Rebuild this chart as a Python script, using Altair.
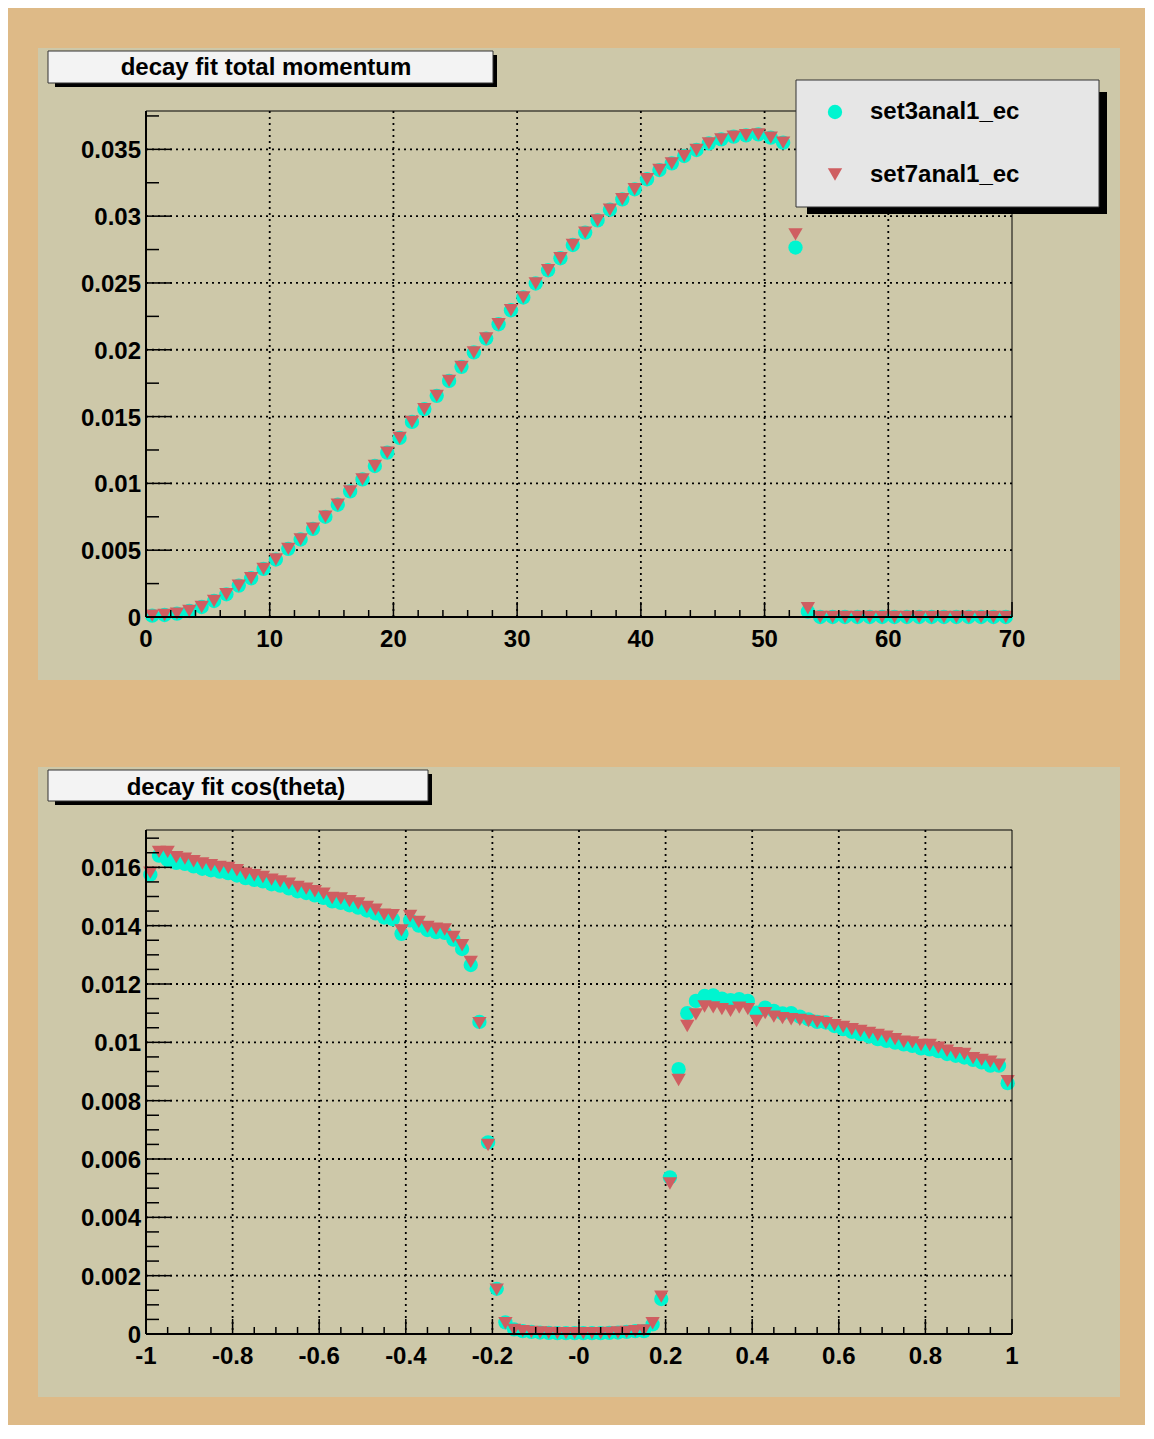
import altair as alt
import pandas as pd

# ---------------- data ----------------
SERIES = ["set3anal1_ec", "set7anal1_ec"]

# top panel: decay fit total momentum (70 bins of width 1, 0..70)
mom_x = [i + 0.5 for i in range(70)]
mom_set7 = [0.0001, 0.00015, 0.00025, 0.00045, 0.00075, 0.0012, 0.0017, 0.00235, 0.0029, 0.0036,
            0.0043, 0.0051, 0.0058, 0.0066, 0.0075, 0.0084, 0.0094, 0.0103, 0.0113, 0.0123,
            0.0134, 0.0146, 0.01556, 0.01655, 0.01767, 0.01872, 0.0198, 0.02084, 0.02191, 0.02296,
            0.02391, 0.02496, 0.02595, 0.02685, 0.02784, 0.02877, 0.02968, 0.03048, 0.03126, 0.03201,
            0.03276, 0.03345, 0.03395, 0.0345, 0.03495, 0.03545, 0.03575, 0.03595, 0.03605, 0.03612,
            0.03588, 0.0355, 0.02864, 0.00065, 0.0, 0.0, 0.0, 0.0, 0.0, 0.0,
            0.0, 0.0, 0.0, 0.0, 0.0, 0.0, 0.0, 0.0, 0.0, 0.0]
mom_set3 = [0.0001, 0.00015, 0.00025, 0.00045, 0.00075, 0.0012, 0.0017, 0.00235, 0.0029, 0.0036,
            0.0043, 0.0051, 0.0058, 0.0066, 0.0075, 0.0084, 0.0094, 0.0103, 0.0113, 0.0123,
            0.0134, 0.0146, 0.01556, 0.01655, 0.01767, 0.01872, 0.0198, 0.02084, 0.02191, 0.02296,
            0.02391, 0.02496, 0.02595, 0.02685, 0.02784, 0.02877, 0.02968, 0.03048, 0.03126, 0.03201,
            0.03276, 0.03345, 0.03395, 0.0345, 0.03495, 0.03545, 0.03575, 0.03595, 0.03605, 0.03612,
            0.03588, 0.0355, 0.02765, 0.0004, 0.0, 0.0, 0.0, 0.0, 0.0, 0.0,
            0.0, 0.0, 0.0, 0.0, 0.0, 0.0, 0.0, 0.0, 0.0, 0.0]

# bottom panel: decay fit cos(theta) (100 bins of width 0.02, -1..1)
cos_x = [round(-0.99 + 0.02 * i, 2) for i in range(100)]
cos_set7 = [0.01582, 0.01653, 0.01653, 0.01635, 0.01630, 0.01621, 0.01613, 0.01607, 0.01601, 0.01598,
            0.01590, 0.01578, 0.01573, 0.01567, 0.01558, 0.01552, 0.01544, 0.01533, 0.01527, 0.01518,
            0.01510, 0.01495, 0.01493, 0.01484, 0.01476, 0.01464, 0.01455, 0.01438, 0.01436, 0.01384,
            0.01433, 0.01413, 0.01396, 0.01390, 0.01387, 0.01361, 0.01333, 0.01276,
            0.01066, 0.00648, 0.00152, 0.00037, 0.00014, 0.0001, 0.00007, 0.00005, 0.00004, 0.00003,
            0.00003, 0.00003, 0.00003, 0.00003, 0.00003, 0.00004, 0.00005, 0.00007, 0.0001, 0.00012,
            0.00037, 0.00128, 0.00516,
            0.00871, 0.01056, 0.01096, 0.01123, 0.0112, 0.01114, 0.01108, 0.01119, 0.01114, 0.01073,
            0.011, 0.01088, 0.01083, 0.01079, 0.01077, 0.01073, 0.0107, 0.01066, 0.01059, 0.01053,
            0.01045, 0.01039, 0.01032, 0.01025, 0.01019, 0.01011, 0.01002, 0.01, 0.00991, 0.00991,
            0.00982, 0.00971, 0.00963, 0.0096, 0.00946, 0.0094, 0.00934, 0.00923, 0.00867]
cos_set3 = [0.01575, 0.01640, 0.01625, 0.01615, 0.01612, 0.01603, 0.01595, 0.01590, 0.01585, 0.01580,
            0.01572, 0.01563, 0.01557, 0.01552, 0.01542, 0.01537, 0.01528, 0.01518, 0.01512, 0.01504,
            0.01495, 0.01483, 0.01478, 0.01470, 0.01462, 0.01452, 0.01442, 0.01428, 0.01422, 0.01372,
            0.01418, 0.01400, 0.01385, 0.01378, 0.01375, 0.01352, 0.01320, 0.01265,
            0.0107, 0.00657, 0.00155, 0.0004, 0.00016, 0.0001, 0.00007, 0.00005, 0.00004, 0.00003,
            0.00003, 0.00003, 0.00003, 0.00003, 0.00003, 0.00004, 0.00005, 0.00007, 0.0001, 0.0001,
            0.00033, 0.0012, 0.00537,
            0.00908, 0.011, 0.01142, 0.01159, 0.01161, 0.0115, 0.01145, 0.01148, 0.01142, 0.01102,
            0.01119, 0.01108, 0.01099, 0.011, 0.01088, 0.01079, 0.0107, 0.01068, 0.01056, 0.01045,
            0.01036, 0.01028, 0.0102, 0.01011, 0.01005, 0.00999, 0.00993, 0.00988, 0.00979, 0.00976,
            0.0097, 0.0096, 0.00954, 0.00948, 0.0094, 0.00931, 0.0092, 0.0092, 0.0086]

# axis tick values and labels
mom_x_major = [0, 10, 20, 30, 40, 50, 60, 70]
mom_x_labels = ["0", "10", "20", "30", "40", "50", "60", "70"]
mom_x_minor = [v for v in range(0, 71, 2) if v % 10 != 0]
mom_y_major = [0, 0.005, 0.01, 0.015, 0.02, 0.025, 0.03, 0.035]
mom_y_labels = ["0", "0.005", "0.01", "0.015", "0.02", "0.025", "0.03", "0.035"]
mom_y_minor = [0.0025 + 0.005 * i for i in range(8)]

cos_x_major = [-1, -0.8, -0.6, -0.4, -0.2, 0, 0.2, 0.4, 0.6, 0.8, 1]
cos_x_labels = ["-1", "-0.8", "-0.6", "-0.4", "-0.2", "-0", "0.2", "0.4", "0.6", "0.8", "1"]
cos_x_minor = [round(-1 + 0.05 * i, 2) for i in range(41) if i % 4 != 0]
cos_y_major = [0, 0.002, 0.004, 0.006, 0.008, 0.01, 0.012, 0.014, 0.016]
cos_y_labels = ["0", "0.002", "0.004", "0.006", "0.008", "0.01", "0.012", "0.014", "0.016"]
cos_y_minor = [round(0.0005 * i, 4) for i in range(35) if i % 4 != 0]

# ---------------- style ----------------
FONT = "Liberation Sans"
TAN = "#DEBA87"
PAD = "#CDC8A9"
CYAN = "#00F5D0"
RED = "#CF5E61"
W = 866
FS = 24
MSIZE = 205


def panel(xs, set3, set7, xdom, ydom, H, xmaj, xlab, xmin, ymaj, ylab, ymin, xgrid, ygrid,
          title, tbox, tpos, legend, xmaj_len, xmin_len):
    pts = pd.DataFrame({
        "x": list(xs) + list(xs),
        "y": list(set3) + list(set7),
        "series": [SERIES[0]] * len(xs) + [SERIES[1]] * len(xs),
    })
    one = alt.Chart(pd.DataFrame({"d": [0]}))
    xsc = alt.Scale(domain=xdom, nice=False, zero=False)
    ysc = alt.Scale(domain=ydom, nice=False, zero=False)

    pad = one.mark_rect(fill=PAD).encode(
        x=alt.value(-108), x2=alt.value(W + 108), y=alt.value(-63), y2=alt.value(H + 63))
    tshadow = one.mark_rect(fill="black").encode(
        x=alt.value(tbox[0] + 7), x2=alt.value(tbox[1] + 4),
        y=alt.value(tbox[2] + 4), y2=alt.value(tbox[3] + 4))
    tboxm = one.mark_rect(fill="#F3F3F3", stroke="#333333", strokeWidth=1).encode(
        x=alt.value(tbox[0]), x2=alt.value(tbox[1]), y=alt.value(tbox[2]), y2=alt.value(tbox[3]))
    ttext = one.mark_text(font=FONT, fontSize=FS, fontWeight="bold", color="black",
                          align="center", baseline="middle", dy=1).encode(
        x=alt.value(tpos[0]), y=alt.value(tpos[1]), text=alt.value(title))

    ygr = alt.Chart(pd.DataFrame({"v": ygrid})).mark_rule(
        color="black", strokeWidth=1.8, strokeDash=[2, 4]).encode(
        y=alt.Y("v:Q", scale=ysc, axis=None), x=alt.value(0), x2=alt.value(W))
    xgr = alt.Chart(pd.DataFrame({"v": xgrid})).mark_rule(
        color="black", strokeWidth=1.8, strokeDash=[2, 4]).encode(
        x=alt.X("v:Q", scale=xsc, axis=None), y=alt.value(0), y2=alt.value(H))

    if legend:
        leg = alt.Legend(orient="none", legendX=677, legendY=-11, title=None,
                         labelFont=FONT, labelFontSize=FS, labelFontWeight="bold",
                         labelColor="black", symbolSize=MSIZE, rowPadding=38.5,
                         labelOffset=23, padding=0, symbolStrokeWidth=0,
                         symbolOpacity=1, direction="vertical")
        cl = alt.Color("series:N", scale=alt.Scale(domain=SERIES, range=[CYAN, RED]), legend=leg)
        sh = alt.Shape("series:N", scale=alt.Scale(domain=SERIES, range=["circle", "triangle-down"]), legend=leg)
    else:
        cl = alt.Color("series:N", scale=alt.Scale(domain=SERIES, range=[CYAN, RED]), legend=None)
        sh = alt.Shape("series:N", scale=alt.Scale(domain=SERIES, range=["circle", "triangle-down"]), legend=None)

    points = alt.Chart(pts).mark_point(filled=True, size=MSIZE, opacity=1, strokeWidth=0).encode(
        x=alt.X("x:Q", scale=xsc, axis=None),
        y=alt.Y("y:Q", scale=ysc, axis=None),
        color=cl, shape=sh)

    frame = one.mark_rect(fillOpacity=0, stroke="black", strokeWidth=1).encode(
        x=alt.value(0), x2=alt.value(W), y=alt.value(0), y2=alt.value(H))
    yline = one.mark_rule(color="black", strokeWidth=2).encode(
        x=alt.value(0), y=alt.value(0), y2=alt.value(H))
    xline = one.mark_rule(color="black", strokeWidth=2).encode(
        x=alt.value(0), x2=alt.value(W), y=alt.value(H))

    ytmaj = alt.Chart(pd.DataFrame({"v": ymaj})).mark_rule(color="black", strokeWidth=1.5).encode(
        y=alt.Y("v:Q", scale=ysc, axis=None), x=alt.value(0), x2=alt.value(26))
    ytmin = alt.Chart(pd.DataFrame({"v": ymin})).mark_rule(color="black", strokeWidth=1.5).encode(
        y=alt.Y("v:Q", scale=ysc, axis=None), x=alt.value(0), x2=alt.value(13))
    xtmaj = alt.Chart(pd.DataFrame({"v": xmaj})).mark_rule(color="black", strokeWidth=1.5).encode(
        x=alt.X("v:Q", scale=xsc, axis=None), y=alt.value(H), y2=alt.value(H - xmaj_len))
    xtmin = alt.Chart(pd.DataFrame({"v": xmin})).mark_rule(color="black", strokeWidth=1.5).encode(
        x=alt.X("v:Q", scale=xsc, axis=None), y=alt.value(H), y2=alt.value(H - xmin_len))

    ylabels = alt.Chart(pd.DataFrame({"v": ymaj, "t": ylab})).mark_text(
        font=FONT, fontSize=FS, fontWeight="bold", color="black",
        align="right", baseline="middle", dy=2).encode(
        y=alt.Y("v:Q", scale=ysc, axis=None), x=alt.value(-5), text="t:N")
    xlabels = alt.Chart(pd.DataFrame({"v": xmaj, "t": xlab})).mark_text(
        font=FONT, fontSize=FS, fontWeight="bold", color="black",
        align="center", baseline="middle", dy=2).encode(
        x=alt.X("v:Q", scale=xsc, axis=None), y=alt.value(H + 21), text="t:N")

    layers = [pad, tshadow, tboxm, ttext, ygr, xgr, points, frame, yline, xline,
              ytmaj, ytmin, xtmaj, xtmin, ylabels, xlabels]
    if legend:
        lshadow = one.mark_rect(fill="black").encode(
            x=alt.value(661), x2=alt.value(961), y=alt.value(-19), y2=alt.value(103))
        lbox = one.mark_rect(fill="#E6E6E6", stroke="#333333", strokeWidth=1).encode(
            x=alt.value(650), x2=alt.value(953), y=alt.value(-31), y2=alt.value(96))
        layers += [lshadow, lbox]
    return alt.layer(*layers).properties(width=W, height=H)


top = panel(mom_x, mom_set3, mom_set7, [0, 70], [0, 0.03787], 506,
            mom_x_major, mom_x_labels, mom_x_minor, mom_y_major, mom_y_labels, mom_y_minor,
            [10, 20, 30, 40, 50, 60], mom_y_major[1:],
            "decay fit total momentum", (-98, 347, -60, -28), (120, -44), True, 15, 7)

bottom = panel(cos_x, cos_set3, cos_set7, [-1, 1], [0, 0.01728], 504,
               cos_x_major, cos_x_labels, cos_x_minor, cos_y_major, cos_y_labels, cos_y_minor,
               cos_x_major[1:-1], cos_y_major[1:],
               "decay fit cos(theta)", (-98, 282, -60, -29), (90, -43), False, 15, 7)

chart = alt.vconcat(top, bottom, spacing=87).resolve_scale(
    x="independent", y="independent", color="independent", shape="independent"
).properties(
    background=TAN,
    padding={"left": 30, "top": 40, "right": 25, "bottom": 28},
).configure_view(strokeWidth=0)

chart.save("out.html", embed_options={"renderer": "svg", "actions": False})
